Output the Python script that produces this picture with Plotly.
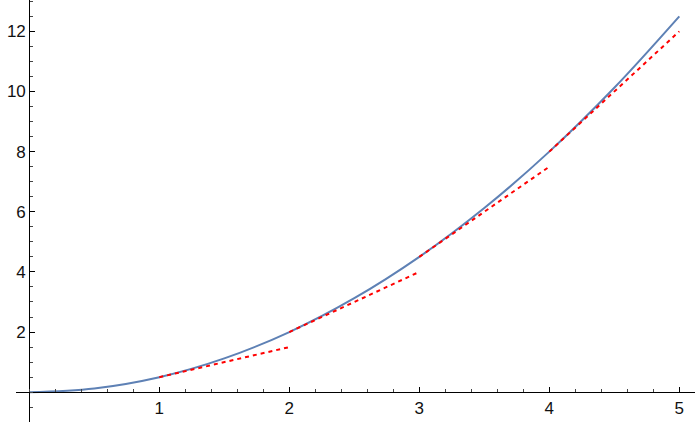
import plotly.graph_objects as go

# Curve values
curve_x = [0, 0.5, 1, 1.5, 2, 2.5, 3, 3.5, 4, 4.5, 5]
curve_y = [0, 0.125, 0.5, 1.125, 2, 3.125, 4.5, 6.125, 8, 10.125, 12.5]

# Dashed red segments (start x, end x, start y, end y)
seg_x0 = [1, 2, 3, 4]
seg_x1 = [2, 3, 4, 5]
seg_y0 = [0.5, 2, 4.5, 8]
seg_y1 = [1.5, 4, 7.5, 12]

x_ticks = [1, 2, 3, 4, 5]
y_ticks = [2, 4, 6, 8, 10, 12]

xmin, xmax = -0.1023, 5.1208
ymin, ymax = -0.991, 13.043

fig = go.Figure()

fig.add_trace(go.Scatter(x=curve_x, y=curve_y, mode="lines", line_shape="spline",
                         line=dict(color="#5E81B5", width=2), showlegend=False))

for x0, x1, y0, y1 in zip(seg_x0, seg_x1, seg_y0, seg_y1):
    fig.add_trace(go.Scatter(x=[x0, x1], y=[y0, y1], mode="lines",
                             line=dict(color="#FF0000", width=2, dash="4px,4px"),
                             showlegend=False))

fig.update_layout(
    width=695, height=422,
    margin=dict(l=16, r=0, t=0, b=0),
    plot_bgcolor="white", paper_bgcolor="white",
    font=dict(family="Liberation Sans, Arial", size=17, color="#111111"),
    xaxis=dict(range=[xmin, xmax], showgrid=False, zeroline=False, automargin=False,
               showline=True, linecolor="black", linewidth=1.2,
               anchor="free", position=(0 - ymin) / (ymax - ymin),
               tickmode="array", tickvals=x_ticks, ticks="inside", ticklen=5,
               tickcolor="black",
               minor=dict(dtick=0.2, tick0=0, ticks="inside", ticklen=3, tickcolor="#444444")),
    yaxis=dict(range=[ymin, ymax], showgrid=False, zeroline=False, automargin=False,
               showline=True, linecolor="black", linewidth=1.2,
               anchor="free", position=(0 - xmin) / (xmax - xmin),
               tickmode="array", tickvals=y_ticks, ticks="inside", ticklen=5,
               tickcolor="black",
               minor=dict(dtick=0.5, tick0=0, ticks="inside", ticklen=3, tickcolor="#444444")),
)

# remove the page's default body margin so the figure sits at the window corner
fig.write_html("out.html", config={"displayModeBar": False},
               post_script="document.body.style.margin='0';")
